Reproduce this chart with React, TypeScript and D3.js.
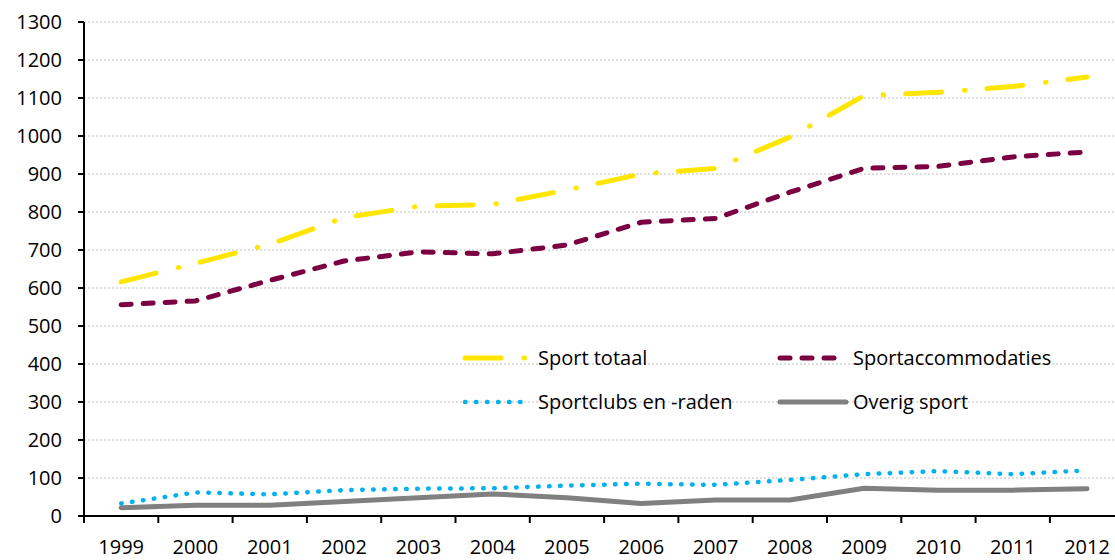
import React from "react";
import * as d3 from "d3";

const years = ["1999", "2000", "2001", "2002", "2003", "2004", "2005", "2006", "2007", "2008", "2009", "2010", "2011", "2012"];
const yTicks = [0, 100, 200, 300, 400, 500, 600, 700, 800, 900, 1000, 1100, 1200, 1300];

const sportTotaal = [616, 665, 715, 785, 815, 820, 858, 900, 915, 997, 1106, 1115, 1130, 1155];
const sportaccommodaties = [556, 566, 620, 671, 695, 690, 713, 773, 783, 852, 915, 920, 945, 958];
const sportclubs = [33, 62, 57, 68, 72, 73, 80, 85, 82, 95, 110, 118, 110, 120];
const overigSport = [22, 28, 28, 38, 48, 58, 48, 33, 42, 42, 73, 68, 68, 72];

const series = [
  { name: "Sport totaal", values: sportTotaal, color: "#FFE600", width: 5, dash: "36,23,0.5,22" },
  { name: "Sportaccommodaties", values: sportaccommodaties, color: "#7B0041", width: 5, dash: "10,12" },
  { name: "Sportclubs en -raden", values: sportclubs, color: "#00B0F0", width: 4.5, dash: "0.5,10.5" },
  { name: "Overig sport", values: overigSport, color: "#808080", width: 5, dash: "none" },
];

const W = 1115;
const H = 560;
const left = 84;
const top = 22;
const bottom = 516;
const step = 74.3;

export default function App() {
  const x = d3.scaleBand<string>().domain(years).range([left, left + step * years.length]).padding(0);
  const y = d3.scaleLinear().domain([0, 1300]).range([bottom, top]);
  const cx = (d: string) => (x(d) ?? 0) + x.bandwidth() / 2;

  const line = d3
    .line<number>()
    .x((_, i) => cx(years[i]))
    .y((v) => y(v));

  const font = "'Open Sans', Lato, sans-serif";
  // legend sample start, sample length, text x
  const legendPos = [
    { x: 465, y: 358, len: 63, tx: 538 },
    { x: 780, y: 358, len: 66, tx: 853 },
    { x: 465, y: 402, len: 63, tx: 538 },
    { x: 780, y: 402, len: 66, tx: 853 },
  ];

  return (
    <svg
      width={W}
      height={H}
      style={{ position: "absolute", left: 0, top: 0, background: "#fff" }}
      fontFamily={font}
    >
      {/* gridlines */}
      {yTicks.filter((t) => t > 0).map((t) => (
        <line key={t} x1={left} x2={W} y1={y(t)} y2={y(t)} stroke="#BDBDBD" strokeWidth={1} strokeDasharray="2,2" />
      ))}

      {/* y axis */}
      <line x1={left} x2={left} y1={top} y2={bottom} stroke="#000" strokeWidth={2} />
      {yTicks.map((t) => (
        <g key={t}>
          <line x1={left - 6} x2={left} y1={y(t)} y2={y(t)} stroke="#000" strokeWidth={2} />
          <text x={62} y={y(t)} dy="0.35em" textAnchor="end" fontSize={20} fill="#000">
            {t}
          </text>
        </g>
      ))}

      {/* x axis */}
      <line x1={left} x2={W} y1={bottom} y2={bottom} stroke="#000" strokeWidth={2} />
      {years.map((yr) => (
        <g key={yr}>
          <line x1={x(yr) ?? 0} x2={x(yr) ?? 0} y1={bottom} y2={bottom + 7} stroke="#000" strokeWidth={2} />
          <text x={cx(yr)} y={554} textAnchor="middle" fontSize={20} fill="#000">
            {yr}
          </text>
        </g>
      ))}

      {/* series */}
      {series.map((s) => (
        <path
          key={s.name}
          d={line(s.values) ?? ""}
          fill="none"
          stroke={s.color}
          strokeWidth={s.width}
          strokeDasharray={s.dash}
          strokeLinecap="round"
          strokeLinejoin="round"
        />
      ))}

      {/* legend */}
      {series.map((s, i) => {
        const p = legendPos[i];
        return (
          <g key={s.name}>
            <line
              x1={p.x}
              x2={p.x + p.len}
              y1={p.y}
              y2={p.y}
              stroke={s.color}
              strokeWidth={s.width}
              strokeDasharray={s.dash}
              strokeLinecap="round"
            />
            <text x={p.tx} y={p.y} dy="0.35em" fontSize={20} fill="#000">
              {s.name}
            </text>
          </g>
        );
      })}
    </svg>
  );
}
